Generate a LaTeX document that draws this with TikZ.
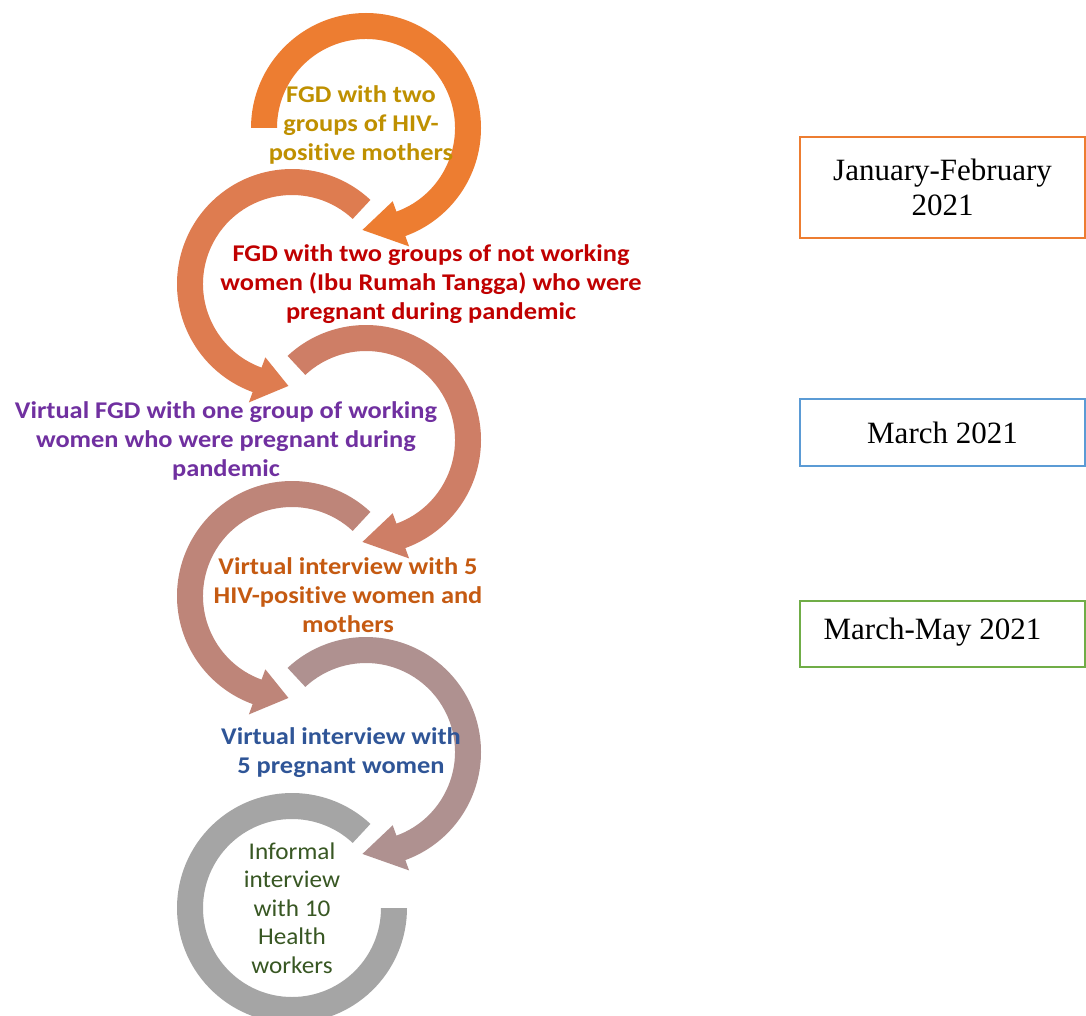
\documentclass[tikz,border=0pt]{standalone}
\usepackage{fontspec}
\setmainfont{Liberation Serif}
\newfontfamily\calwide[FakeStretch=1.1,Ligatures=NoCommon]{Carlito}
\newfontfamily\calfont[FakeStretch=1.05,Ligatures=NoCommon]{Carlito}
\definecolor{arcA}{HTML}{ED7D31}
\definecolor{arcB}{HTML}{DE7C50}
\definecolor{arcC}{HTML}{CE7E66}
\definecolor{arcD}{HTML}{BE8579}
\definecolor{arcE}{HTML}{AF9190}
\definecolor{arcF}{HTML}{A5A5A5}
\definecolor{txA}{HTML}{BF9000}
\definecolor{txB}{HTML}{C00000}
\definecolor{txC}{HTML}{7030A0}
\definecolor{txD}{HTML}{C55A11}
\definecolor{txE}{HTML}{2F5597}
\definecolor{txF}{HTML}{385723}
\definecolor{bxA}{HTML}{ED7D31}
\definecolor{bxB}{HTML}{5B9BD5}
\definecolor{bxC}{HTML}{70AD47}
% clockwise arc arrow: center x, center y (image coords), start angle, colour
\newcommand\cwarrow[4]{%
  \begin{scope}[shift={(#1,-#2)}]
    \fill[#4] (#3:115) arc[start angle=#3, end angle=-70, radius=115]
      -- (-70:126) -- (-92:102) -- (-70:78) -- (-70:89)
      arc[start angle=-70, end angle=#3, radius=89] -- cycle;
  \end{scope}}
% counter-clockwise arc arrow
\newcommand\ccwarrow[4]{%
  \begin{scope}[shift={(#1,-#2)}]
    \fill[#4] (#3:115) arc[start angle=#3, end angle=250, radius=115]
      -- (250:126) -- (268:102) -- (250:78) -- (250:89)
      arc[start angle=250, end angle=#3, radius=89] -- cycle;
  \end{scope}}
\begin{document}
\begin{tikzpicture}[x=1pt,y=1pt,
  steptext/.style={align=center, font=\calwide\bfseries\fontsize{24}{29}\selectfont, inner sep=0pt},
  datebox/.style={draw, line width=2pt, minimum width=285pt, inner sep=0pt, align=center,
     font=\fontsize{31}{35}\selectfont}]
\useasboundingbox (0,0) rectangle (1086,-1016);
\clip (0,0) rectangle (1086,-1016);
\fill[white] (0,0) rectangle (1086,-1016);
% circular arrows
\cwarrow{366}{128}{180}{arcA}
\ccwarrow{292}{284}{47}{arcB}
\cwarrow{366}{440}{133}{arcC}
\ccwarrow{292}{596}{47}{arcD}
\cwarrow{366}{752}{133}{arcE}
\begin{scope}[shift={(292,-908)}]
  \fill[arcF] (47:115) arc[start angle=47, end angle=360, radius=115]
    -- (0:89) arc[start angle=360, end angle=47, radius=89] -- cycle;
\end{scope}
% texts
\node[steptext, text=txA] (t1) at (361,-125) {FGD with two\\groups of HIV-\\positive mothers};
\node[steptext, text=txB] (t2) at (431,-284) {FGD with two groups of not working\\women (Ibu Rumah Tangga) who were\\pregnant during pandemic};
\node[steptext, text=txC] (t3) at (226,-441) {Virtual FGD with one group of working\\women who were pregnant during\\pandemic};
\node[steptext, text=txD] (t4) at (348,-595) {Virtual interview with 5\\HIV-positive women and\\mothers};
\node[steptext, text=txE] (t5) at (341,-753) {Virtual interview with\\5 pregnant women};
\node[align=center, inner sep=0pt, text=txF, font=\calfont\fontsize{24}{28.5}\selectfont] (t6) at (292,-908)
  {Informal\\interview\\with 10\\Health\\workers};
% date boxes
\node[datebox, draw=bxA, minimum height=101pt] (b1) at (942.5,-187.5) {January-February\\2021};
\node[datebox, draw=bxB, minimum height=67pt] (b2) at (942.5,-432.5) {March 2021};
\node[datebox, draw=bxC, minimum height=66pt] (b3) at (942.5,-634) {};
\node[inner sep=0pt, font=\fontsize{31}{35}\selectfont] (b3t) at (932.5,-632) {March-May 2021};
\end{tikzpicture}
\end{document}
